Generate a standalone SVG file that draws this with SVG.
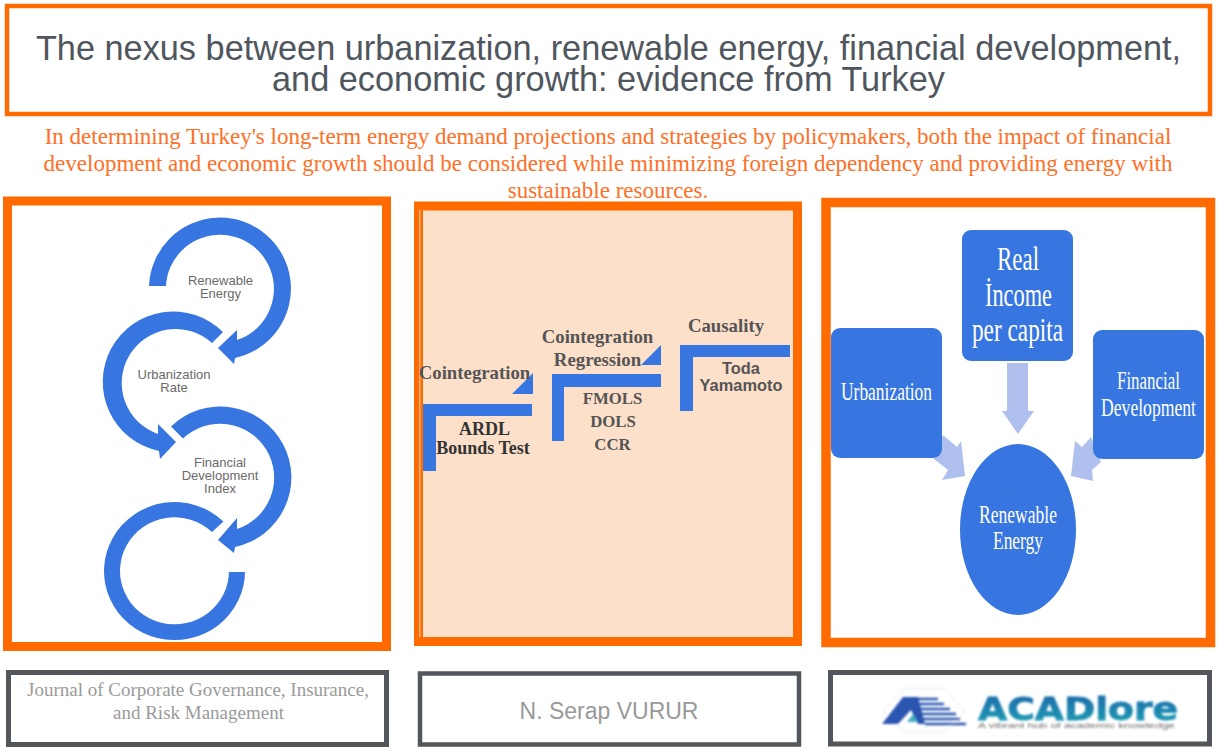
<svg xmlns="http://www.w3.org/2000/svg" width="1219" height="751" viewBox="0 0 1219 751">
<style>
.frame{fill:#fff;stroke:#ff6b00}
.foot{fill:#fff;stroke:#53575c}
.blue{fill:#3776e0}
.pale{fill:#afc0ee}
.ss{font-family:"Liberation Sans",Arial,sans-serif}
.sf{font-family:"Liberation Serif","Times New Roman",serif}
.mid{text-anchor:middle}
.title{font-size:34.300px;fill:#50565e}
.sub{font-size:23px;fill:#ff6f26}
.cyc{font-size:13px;fill:#6a6a6a}
.head{font-size:18.800px;font-weight:bold;fill:#555}
.step{font-size:18px;font-weight:bold;fill:#333}
.item{font-size:16.800px;font-weight:bold;fill:#555}
.wh{fill:#fff}
.jour{font-size:19px;fill:#9a9a9a}
</style>
<defs>
<linearGradient id="logoGrad" x1="0" y1="0" x2="0" y2="1"><stop offset="0" stop-color="#1b62a8"/><stop offset="1" stop-color="#1aa5b5"/></linearGradient>
<filter id="soft" x="-5%" y="-20%" width="110%" height="140%"><feGaussianBlur stdDeviation="0.8"/></filter>
</defs>
<rect width="1219" height="751" fill="#fff"/>

<g id="title">
<rect class="frame" x="7" y="6" width="1203" height="108" stroke-width="4.5"/>
<text class="ss title mid" x="608.5" y="59.5">The nexus between urbanization, renewable energy, financial development,</text>
<text class="ss title mid" x="608.5" y="91">and economic growth: evidence from Turkey</text>
</g>

<g id="summary">
<text class="sf sub mid" x="608" y="144">In determining Turkey's long-term energy demand projections and strategies by policymakers, both the impact of financial</text>
<text class="sf sub mid" x="608" y="171">development and economic growth should be considered while minimizing foreign dependency and providing energy with</text>
<text class="sf sub mid" x="608" y="198">sustainable resources.</text>
</g>

<g id="panel-left">
<rect class="frame" x="7.5" y="201" width="379" height="445.500" stroke-width="9"/>
<g id="cycle-renewable">
<path class="blue" d="M149,286 A71,71 0 1 1 235,358 L234,364 L218,348 L237,330 L237,340 A54,54 0 1 0 166,286 Z"/>
<text class="ss cyc mid" x="220.500" y="285">Renewable</text>
<text class="ss cyc mid" x="220.500" y="298">Energy</text>
</g>
<g id="cycle-urbanization">
<path class="blue" d="M223,332 A70.500,70.500 0 1 0 159,451 L160,459 L176,442 L158,424 L158,434 A54,54 0 1 1 212,343 Z"/>
<text class="ss cyc mid" x="174" y="379">Urbanization</text>
<text class="ss cyc mid" x="174" y="392">Rate</text>
</g>
<g id="cycle-financial">
<path class="blue" d="M171,426.500 A71,71 0 1 1 235,547 L234,553 L218,540 L237,518 L237,529 A54,54 0 1 0 183,438.500 Z"/>
<text class="ss cyc mid" x="220" y="467">Financial</text>
<text class="ss cyc mid" x="220" y="480">Development</text>
<text class="ss cyc mid" x="220" y="493">Index</text>
</g>
<g id="cycle-empty">
<path class="blue" d="M223.500,521.500 A70.500,69 0 1 0 245,570 V572 H229 V570 A54.500,53.500 0 1 1 212,532 Z"/>
</g>
</g>

<g id="panel-middle">
<rect x="418.500" y="206" width="379" height="435.500" fill="#fde0ca" stroke="#ff6b00" stroke-width="9"/>
<rect x="419" y="210" width="1.500" height="427" fill="#ffb27a"/>
<g id="step-cointegration">
<path class="blue" d="M423,404 H532 V416 H436 V471 H423 Z"/>
<path class="blue" d="M533,373 V394 H512 Z"/>
<text class="sf head mid" x="474.500" y="379">Cointegration</text>
<text class="sf step mid" x="484.500" y="435">ARDL</text>
<text class="sf step mid" x="483" y="454">Bounds Test</text>
</g>
<g id="step-regression">
<path class="blue" d="M552,374 H661 V387 H564 V441 H552 Z"/>
<path class="blue" d="M661,345 V365 H641 Z"/>
<text class="sf head mid" x="597.500" y="343">Cointegration</text>
<text class="sf head mid" x="597.500" y="366">Regression</text>
<text class="sf item mid" x="612.500" y="404">FMOLS</text>
<text class="sf item mid" x="613" y="427">DOLS</text>
<text class="sf item mid" x="612.500" y="450">CCR</text>
</g>
<g id="step-causality">
<path class="blue" d="M680,345 H790 V357 H693 V411 H680 Z"/>
<text class="sf head mid" x="726" y="332">Causality</text>
<text class="ss item mid" x="741" y="374" style="font-size:16.400px">Toda</text>
<text class="ss item mid" x="741" y="391" style="font-size:16.400px">Yamamoto</text>
</g>
</g>

<g id="panel-right">
<rect class="frame" x="826" y="202.500" width="384.500" height="440" stroke-width="9.500"/>
</g>
<g id="connectors">
<path class="pale" d="M1007,363 H1028 V411 H1034 L1018,434 L1002,411 H1007 Z"/>
<path class="pale" d="M943,435 L957,447 L961,441 L965,476 L942,480 L948,470 L934,459 Z"/>
<path class="pale" d="M1091,437 L1082,447 L1075,441 L1071,476 L1093,481 L1092,470 L1101,462 Z"/>
</g>
<g id="node-urbanization">
<rect class="blue" x="831" y="328" width="111" height="130" rx="9"/>
<text class="sf wh" x="841" y="400" font-size="25" textLength="91" lengthAdjust="spacingAndGlyphs">Urbanization</text>
</g>
<g id="node-income">
<rect class="blue" x="962" y="230" width="111" height="131" rx="9"/>
<text class="sf wh" x="997" y="270" font-size="33" textLength="42" lengthAdjust="spacingAndGlyphs">Real</text>
<text class="sf wh" x="985" y="306" font-size="33" textLength="67" lengthAdjust="spacingAndGlyphs">İncome</text>
<text class="sf wh" x="972" y="341" font-size="33" textLength="91" lengthAdjust="spacingAndGlyphs">per capita</text>
</g>
<g id="node-financial">
<rect class="blue" x="1093" y="330" width="111" height="129" rx="9"/>
<text class="sf wh" x="1117" y="389" font-size="25" textLength="63" lengthAdjust="spacingAndGlyphs">Financial</text>
<text class="sf wh" x="1101" y="416" font-size="25" textLength="95" lengthAdjust="spacingAndGlyphs">Development</text>
</g>
<g id="node-renewable">
<ellipse class="blue" cx="1018" cy="529.500" rx="58" ry="85.500"/>
<text class="sf wh" x="979" y="523" font-size="25" textLength="78" lengthAdjust="spacingAndGlyphs">Renewable</text>
<text class="sf wh" x="993" y="549" font-size="25" textLength="50" lengthAdjust="spacingAndGlyphs">Energy</text>
</g>

<g id="footer-journal">
<rect class="foot" x="8.500" y="672.500" width="378" height="72" stroke-width="5"/>
<text class="sf jour mid" x="198" y="696">Journal of Corporate Governance, Insurance,</text>
<text class="sf jour mid" x="198.500" y="719">and Risk Management</text>
</g>
<g id="footer-author">
<rect class="foot" x="420" y="673.500" width="379" height="71" stroke-width="4.500"/>
<text class="ss mid" x="609" y="719" font-size="23" fill="#999">N. Serap VURUR</text>
</g>
<g id="footer-logo">
<rect class="foot" x="830.500" y="672.500" width="379" height="71.500" stroke-width="5"/>
<g filter="url(#soft)">
<path d="M883,711 L904,689 H944 L965,711 L944,732 H904 Z" fill="none" stroke="#e4e8ee"/>
<path d="M882,724 L903,697 H918 L925,724 H918 L911,710 L898,724 Z" fill="#2a55b0"/>
<g stroke="#2a55b0" stroke-width="2.500">
<path d="M912,699 H938 M916,704 H944 M918,709 H950 M920,714 H956 M923,719 H960 M925,724 H966"/>
</g>
<path d="M907,722 L913,714 L918,722 Z" fill="#3fb0c0"/>
<text x="978" y="720" font-family="'DejaVu Sans',sans-serif" font-weight="bold" font-size="32" fill="url(#logoGrad)" stroke="url(#logoGrad)" stroke-width="0.800" textLength="200" lengthAdjust="spacingAndGlyphs">ACADlore</text>
<text x="978" y="727.500" font-family="'Liberation Sans',sans-serif" font-size="7" fill="#666" textLength="197" lengthAdjust="spacingAndGlyphs">A vibrant hub of academic knowledge</text>
</g>
</g>
</svg>
